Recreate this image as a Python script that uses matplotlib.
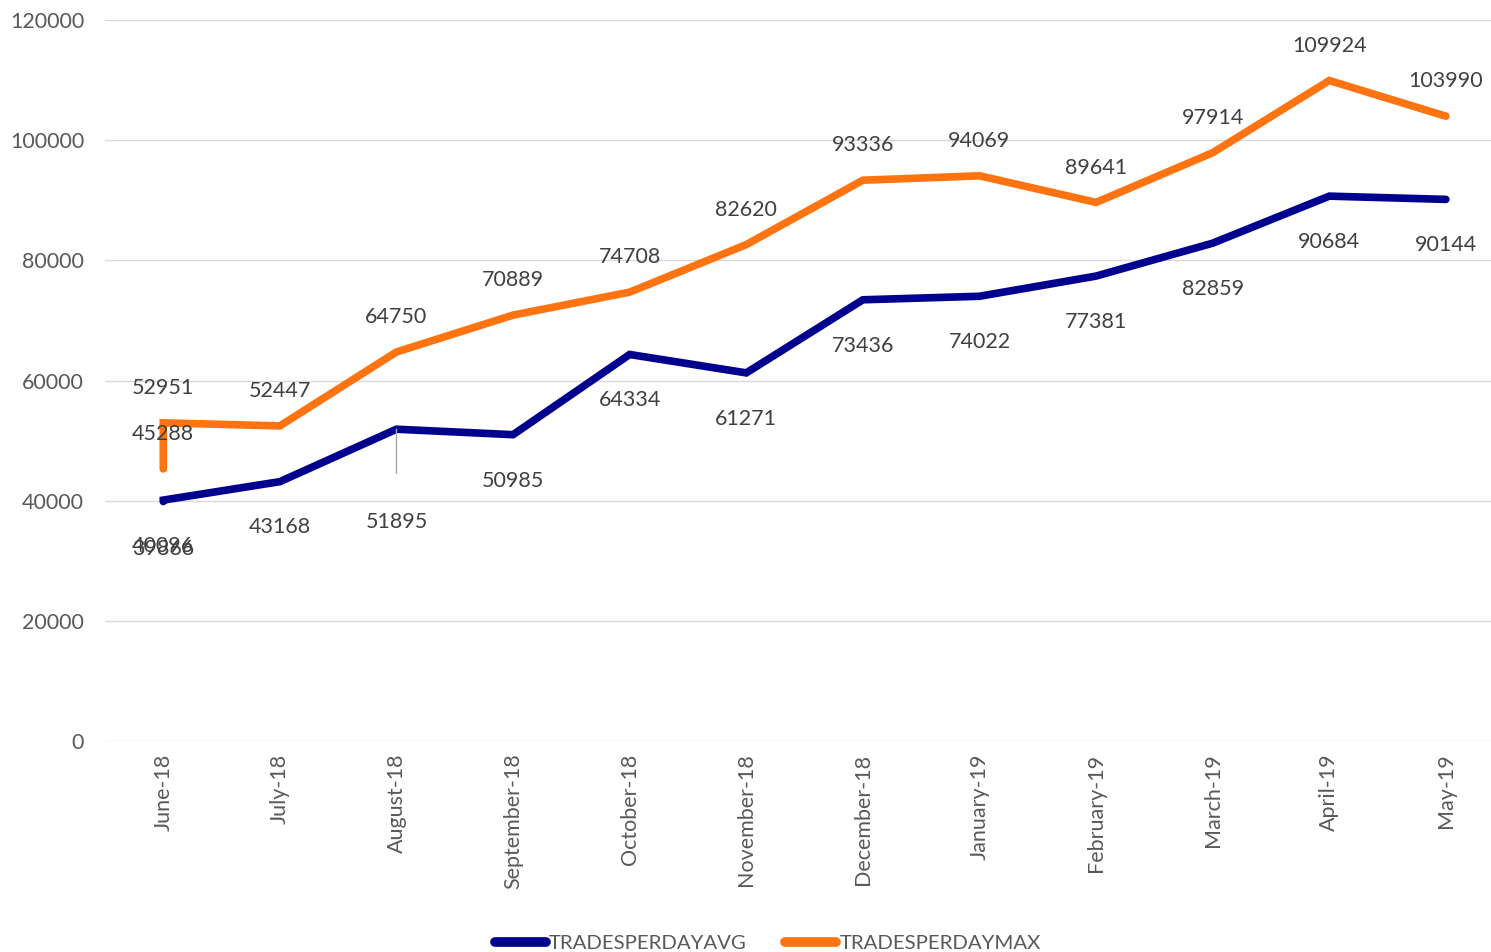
import matplotlib.pyplot as plt
from matplotlib.lines import Line2D

# Data (June-18 has two points per series)
months = ['June-18', 'July-18', 'August-18', 'September-18', 'October-18',
          'November-18', 'December-18', 'January-19', 'February-19',
          'March-19', 'April-19', 'May-19']
point_month = [0, 0, 1, 2, 3, 4, 5, 6, 7, 8, 9, 10, 11]
trades_avg = [39866, 40096, 43168, 51895, 50985, 64334, 61271, 73436,
              74022, 77381, 82859, 90684, 90144]
trades_max = [45288, 52951, 52447, 64750, 70889, 74708, 82620, 93336,
              94069, 89641, 97914, 109924, 103990]
y_ticks = [0, 20000, 40000, 60000, 80000, 100000, 120000]

blue = '#00008F'
orange = '#FF7410'
label_col = '#404040'
tick_col = '#595959'
fs = 15.5

plt.rcParams['font.family'] = ['Lato', 'DejaVu Sans']

fig = plt.figure(figsize=(14.91, 9.52), dpi=100)
ax = fig.add_axes([0.0704, 0.2216, 0.9296, 0.7574])

ax.plot(point_month, trades_avg, color=blue, lw=5.5,
        solid_joinstyle='miter', solid_capstyle='round', zorder=3)
ax.plot(point_month, trades_max, color=orange, lw=5.5,
        solid_joinstyle='miter', solid_capstyle='round', zorder=3)

# data labels
for i, (x, v) in enumerate(zip(point_month, trades_max)):
    ax.annotate(str(v), (x, v), xytext=(0, 25), textcoords='offset points',
                ha='center', va='center', fontsize=fs, color=label_col)
for i, (x, v) in enumerate(zip(point_month, trades_avg)):
    if months[x] == 'August-18':
        # label pushed down, with a leader line
        ax.annotate(str(v), (x, v), xytext=(0, -67), textcoords='offset points',
                    ha='center', va='center', fontsize=fs, color=label_col,
                    arrowprops=dict(arrowstyle='-', color='#a6a6a6', lw=1,
                                    relpos=(0.5, 1.0), shrinkA=26, shrinkB=0))
    else:
        ax.annotate(str(v), (x, v), xytext=(0, -33 - 1.5 * (i == 0)),
                    textcoords='offset points',
                    ha='center', va='center', fontsize=fs, color=label_col)

ax.set_xlim(-0.5, 11.387)
ax.set_ylim(0, 120000)
ax.set_yticks(y_ticks)
ax.set_yticklabels([str(t) for t in y_ticks])
ax.set_xticks(range(len(months)))
ax.set_xticklabels(months, rotation=90)
ax.tick_params(axis='both', length=0, labelsize=fs, labelcolor=tick_col)
ax.tick_params(axis='y', pad=15)
ax.tick_params(axis='x', pad=9)
ax.grid(axis='y', color='#D9D9D9', lw=1)
ax.set_axisbelow(True)
for s in ax.spines.values():
    s.set_visible(False)

handles = [Line2D([], [], color=blue, lw=7, solid_capstyle='round'),
           Line2D([], [], color=orange, lw=7, solid_capstyle='round')]
fig.legend(handles, ['TRADESPERDAYAVG', 'TRADESPERDAYMAX'], loc='center',
           bbox_to_anchor=(0.515, 0.009), ncol=2, frameon=False, fontsize=14.7,
           handlelength=2.5, handletextpad=0.15, columnspacing=1.9,
           labelcolor=tick_col)

fig.savefig('out.png', dpi=100)
